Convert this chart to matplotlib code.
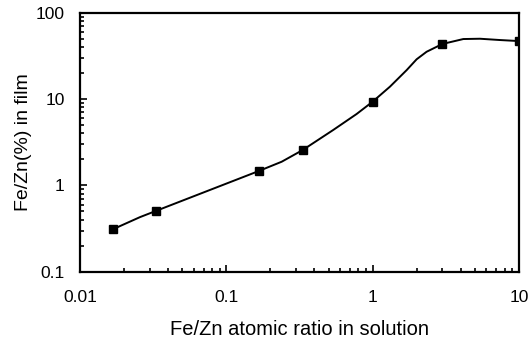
import matplotlib.pyplot as plt
from matplotlib.ticker import LogLocator, NullFormatter

plt.rcParams['font.family'] = ['Liberation Sans', 'DejaVu Sans']

# measured points (Fe/Zn ratio in solution vs Fe/Zn % in film)
ratio = [0.0167, 0.0333, 0.167, 0.333, 1.0, 3.0, 10.0]
fe_pct = [0.31, 0.51, 1.47, 2.57, 9.3, 43.3, 46.8]

# hand-drawn guide curve
curve_x = [0.0167, 0.0257, 0.0333, 0.167, 0.239, 0.333, 0.538, 0.778, 1.0,
           1.315, 1.71, 2.0, 2.34, 3.0, 4.17, 5.42, 7.43, 10.0]
curve_y = [0.31, 0.43, 0.51, 1.47, 1.88, 2.57, 4.38, 6.71, 9.3,
           13.9, 21.6, 28.8, 35.2, 43.3, 49.4, 49.8, 48.1, 46.8]

xticks = [0.01, 0.1, 1, 10]
xtick_labels = ['0.01', '0.1', '1', '10']
yticks = [0.1, 1, 10, 100]
ytick_labels = ['0.1', '1', '10', '100']

fig = plt.figure(figsize=(5.3, 3.49), dpi=100)
ax = fig.add_axes([0.151, 0.221, 0.828, 0.743])

ax.plot(curve_x, curve_y, color='black', lw=1.4)
ax.plot(ratio, fe_pct, ls='none', marker='s', ms=6.3, color='black')

ax.set_xscale('log')
ax.set_yscale('log')
ax.set_xlim(0.01, 10)
ax.set_ylim(0.1, 100)

ax.set_xticks(xticks, xtick_labels)
ax.set_yticks(yticks, ytick_labels)
ax.xaxis.set_minor_locator(LogLocator(base=10, subs=range(2, 10)))
ax.yaxis.set_minor_locator(LogLocator(base=10, subs=range(2, 10)))
ax.xaxis.set_minor_formatter(NullFormatter())
ax.yaxis.set_minor_formatter(NullFormatter())

ax.tick_params(which='both', direction='in', top=False, right=False, width=1.2)
ax.tick_params(which='major', length=5, labelsize=12.5)
ax.tick_params(which='minor', length=3)
ax.tick_params(axis='x', which='major', pad=13)
ax.tick_params(axis='y', which='major', pad=11)

for s in ax.spines.values():
    s.set_linewidth(1.6)

ax.set_xlabel('Fe/Zn atomic ratio in solution', fontsize=14.5, labelpad=11)
ax.set_ylabel('Fe/Zn(%) in film', fontsize=14, labelpad=3)

fig.savefig('out.png', dpi=100)
